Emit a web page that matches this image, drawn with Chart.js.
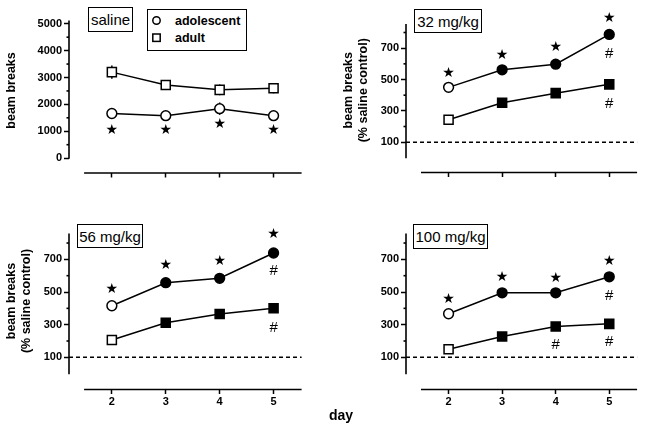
<!DOCTYPE html>
<html lang="en">
<head>
<meta charset="UTF-8">
<title>beam breaks by day</title>
<script src="https://cdn.jsdelivr.net/npm/chart.js"></script>
<style>
  body { margin: 0; background: #fff; }
  #wrap { position: relative; width: 645px; height: 429px; font-family: "Liberation Sans", Arial, sans-serif; color: #000; }
  #wrap canvas { position: absolute; left: 0; top: 0; }
  .tag { position: absolute; box-sizing: border-box; border: 1.5px solid #000; font-size: 15px;
         display: flex; align-items: center; justify-content: center; background: #fff; }
  #legend { position: absolute; left: 147px; top: 9px; width: 100px; height: 42px; box-sizing: border-box; border: 1.5px solid #000; background: #fff; }
  #legend span { position: absolute; font-weight: bold; font-size: 12.5px; transform: translateY(-50%); white-space: nowrap; }
  #dayLabel { position: absolute; left: 341px; top: 415px; transform: translate(-50%, -50%); font-weight: bold; font-size: 14px; }
</style>
</head>
<body>
<div id="wrap">
  <canvas id="c1" width="645" height="429"></canvas>
  <canvas id="c2" width="645" height="429"></canvas>
  <canvas id="c3" width="645" height="429"></canvas>
  <canvas id="c4" width="645" height="429"></canvas>

  <div class="tag" style="left:88px;top:7px;width:45px;height:25px">saline</div>
  <div class="tag" style="left:414px;top:9px;width:68px;height:24px">32 mg/kg</div>
  <div class="tag" style="left:77px;top:224px;width:66px;height:24px">56 mg/kg</div>
  <div class="tag" style="left:413px;top:224px;width:75px;height:25px">100 mg/kg</div>

  <div id="legend">
    <svg width="96" height="38" style="position:absolute;left:0;top:0">
      <circle cx="8.5" cy="10.5" r="3.7" fill="#fff" stroke="#000" stroke-width="1.5"/>
      <rect x="4.8" y="24" width="7.4" height="7.4" fill="#fff" stroke="#000" stroke-width="1.5"/>
    </svg>
    <span style="left:27px;top:10.5px">adolescent</span>
    <span style="left:27px;top:27.5px">adult</span>
  </div>

  <div id="dayLabel">day</div>
</div>

<script>
// days on the x axis
const days = [2, 3, 4, 5];

// saline: raw beam breaks
const salineAdol = [1660, 1580, 1840, 1580];
const salineAdult = [3200, 2720, 2540, 2600];
const salineAdolErr = [150, 120, 230, 120];
const salineAdultErr = [250, 150, 200, 190];
const salineStars = [1050, 1040, 1240, 1040];

// 32 mg/kg (% saline control)
const mg32Adol = [450, 562, 598, 788];
const mg32Adult = [243, 352, 413, 469];
const mg32Stars = [540, 655, 704, 890];
const mg32Hash = [[5, 669], [5, 352]];

// 56 mg/kg
const mg56Adol = [416, 557, 584, 739];
const mg56Adult = [206, 312, 365, 400];
const mg56Stars = [516, 661, 690, 853];
const mg56Hash = [[5, 635], [5, 287]];

// 100 mg/kg
const mg100Adol = [367, 495, 495, 593];
const mg100Adult = [149, 227, 289, 305];
const mg100Stars = [453, 587, 583, 689];
const mg100Hash = [[4, 182], [5, 484], [5, 202]];

// tick values
const salineTicks = [0, 1000, 2000, 3000, 4000, 5000];
const salineMinor = [500, 1500, 2500, 3500, 4500];
const pctTicks = [100, 300, 500, 700];
const pctMinor = [200, 400, 600, 800];

const FONT = '"Liberation Sans", Arial, sans-serif';
const xMin = 1.205, xMax = 5.52, xAxisStart = 1.485;

const panels = [
  { id: 'c1', adol: salineAdol, adult: salineAdult, adolErr: salineAdolErr, adultErr: salineAdultErr,
    stars: salineStars, hash: [], allOpen: true, ticks: salineTicks, minor: salineMinor,
    title: 'beam breaks', yMin: -553, yMax: 5589, axisTop: 5119, baseline: null, showX: false,
    pad: { left: 4, right: 343.4, top: 3, bottom: 226 } },
  { id: 'c2', adol: mg32Adol, adult: mg32Adult, stars: mg32Stars, hash: mg32Hash, allOpen: false,
    ticks: pctTicks, minor: pctMinor, title: ['beam breaks', '(% saline control)'],
    yMin: -93.5, yMax: 957, axisTop: 855, baseline: 100, showX: false,
    pad: { left: 341, right: 6.4, top: 1.5, bottom: 226.5 } },
  { id: 'c3', adol: mg56Adol, adult: mg56Adult, stars: mg56Stars, hash: mg56Hash, allOpen: false,
    ticks: pctTicks, minor: pctMinor, title: ['beam breaks', '(% saline control)'],
    yMin: -97, yMax: 987, axisTop: 859, baseline: 100, showX: true,
    pad: { left: 4, right: 343.4, top: 212.5, bottom: 9.5 } },
  { id: 'c4', adol: mg100Adol, adult: mg100Adult, stars: mg100Stars, hash: mg100Hash, allOpen: false,
    ticks: pctTicks, minor: pctMinor, title: null,
    yMin: -97, yMax: 987, axisTop: 859, baseline: 100, showX: true,
    pad: { left: 341, right: 6.4, top: 212.5, bottom: 9.5 } }
];

// axis lines, minor ticks, baseline, error bars and the star / # marks
function makeDeco(p) {
  return {
    id: 'deco',
    beforeDatasetsDraw(chart) {
      const { ctx, chartArea: a, scales: { x, y } } = chart;
      ctx.save();
      ctx.strokeStyle = '#000';
      ctx.lineWidth = 1.6;
      ctx.beginPath();
      ctx.moveTo(a.left, y.getPixelForValue(0) + 0.5);
      ctx.lineTo(a.left, y.getPixelForValue(p.axisTop));
      ctx.stroke();
      p.minor.forEach(v => {
        const py = y.getPixelForValue(v);
        ctx.beginPath();
        ctx.moveTo(a.left - 2.5, py);
        ctx.lineTo(a.left, py);
        ctx.stroke();
      });
      ctx.beginPath();
      ctx.moveTo(x.getPixelForValue(xAxisStart), a.bottom);
      ctx.lineTo(a.right, a.bottom);
      ctx.stroke();
      if (p.baseline !== null) {
        const py = y.getPixelForValue(p.baseline);
        ctx.setLineDash([4, 3]);
        ctx.lineWidth = 1.5;
        ctx.beginPath();
        ctx.moveTo(a.left, py);
        ctx.lineTo(a.right, py);
        ctx.stroke();
        ctx.setLineDash([]);
      }
      // error bars (saline only)
      [[p.adol, p.adolErr], [p.adult, p.adultErr]].forEach(([vals, errs]) => {
        if (!errs) return;
        ctx.lineWidth = 1.5;
        vals.forEach((v, i) => {
          const px = x.getPixelForValue(days[i]);
          ctx.beginPath();
          ctx.moveTo(px, y.getPixelForValue(v - errs[i]));
          ctx.lineTo(px, y.getPixelForValue(v + errs[i]));
          ctx.stroke();
        });
      });
      ctx.restore();
    },
    afterDatasetsDraw(chart) {
      const { ctx, scales: { x, y } } = chart;
      ctx.save();
      ctx.fillStyle = '#000';
      ctx.textAlign = 'center';
      ctx.textBaseline = 'middle';
      ctx.font = '14px "DejaVu Sans"';
      p.stars.forEach((v, i) => {
        ctx.fillText('\u2605', x.getPixelForValue(days[i]), y.getPixelForValue(v));
      });
      ctx.font = '15px ' + FONT;
      p.hash.forEach(([d, v]) => {
        ctx.fillText('#', x.getPixelForValue(d), y.getPixelForValue(v) + 1);
      });
      ctx.restore();
    }
  };
}

function series(vals, style, radius, fills) {
  return {
    data: days.map((d, i) => ({ x: d, y: vals[i] })),
    borderColor: '#000',
    borderWidth: 1.5,
    pointStyle: style,
    pointRadius: radius,
    pointBorderWidth: 1.5,
    pointBorderColor: '#000',
    pointBackgroundColor: fills,
    tension: 0
  };
}

panels.forEach(p => {
  const fills = days.map((d, i) => (p.allOpen || i === 0) ? '#fff' : '#000');
  new Chart(document.getElementById(p.id), {
    type: 'line',
    data: {
      datasets: [
        series(p.adult, 'rect', 6.4, fills),
        series(p.adol, 'circle', 4.9, fills)
      ]
    },
    options: {
      responsive: false,
      animation: false,
      events: [],
      layout: { padding: p.pad },
      plugins: { legend: { display: false }, tooltip: { enabled: false } },
      scales: {
        x: {
          type: 'linear',
          min: xMin,
          max: xMax,
          afterBuildTicks: s => { s.ticks = days.map(v => ({ value: v })); },
          afterFit: s => { s.height = 30; s.paddingLeft = 0; s.paddingRight = 0; },
          border: { display: false },
          grid: { display: true, drawOnChartArea: false, drawTicks: true, tickLength: 4.5, tickWidth: 1.5, tickColor: '#000' },
          ticks: { display: p.showX, padding: 1, color: '#000', font: { family: FONT, size: 11, weight: 'bold' } }
        },
        y: {
          type: 'linear',
          min: p.yMin,
          max: p.yMax,
          afterBuildTicks: s => { s.ticks = p.ticks.map(v => ({ value: v })); },
          afterFit: s => { s.width = 65; s.paddingTop = 0; s.paddingBottom = 0; },
          border: { display: false },
          grid: { display: true, drawOnChartArea: false, drawTicks: true, tickLength: 5, tickWidth: 1.5, tickColor: '#000' },
          ticks: { padding: 2, color: '#000', font: { family: FONT, size: 11, weight: 'bold' }, callback: v => String(v) },
          title: {
            display: p.title !== null,
            text: p.title || '',
            color: '#000',
            padding: 0,
            font: { family: FONT, size: 12.5, weight: 'bold', lineHeight: 1.2 }
          }
        }
      }
    },
    plugins: [makeDeco(p)]
  });
});
</script>
</body>
</html>
